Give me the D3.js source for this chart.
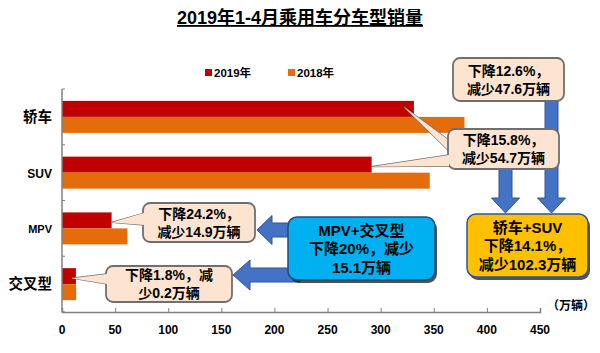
<!DOCTYPE html>
<html>
<head>
<meta charset="utf-8" />
<title>2019年1-4月乘用车分车型销量</title>
<script src="https://cdnjs.cloudflare.com/ajax/libs/d3/7.8.5/d3.min.js"></script>
<style>
  body { margin: 0; background: #fff; }
  svg { font-family: "Liberation Sans", "Noto Sans CJK SC", sans-serif; font-weight: bold; }
</style>
</head>
<body>
<svg id="chart" width="600" height="353"></svg>
<script>
// data
const categories = ['轿车', 'SUV', 'MPV', '交叉型']
const seriesNames = ['2019年', '2018年']
const sales2019 = [331.3, 291.5, 46.7, 13.1]
const sales2018 = [378.9, 346.2, 61.6, 13.3]
const xTicks = [0, 50, 100, 150, 200, 250, 300, 350, 400, 450]
const calloutLines = [
  ['下降12.6%，', '减少47.6万辆'],
  ['下降15.8%，', '减少54.7万辆'],
  ['下降24.2%，', '减少14.9万辆'],
  ['下降1.8%，减', '少0.2万辆']
]
const groupNote = ['MPV+交叉型', '下降20%，减少', '15.1万辆']
const mainNote = ['轿车+SUV', '下降14.1%，', '减少102.3万辆']

const colors = { '2019年': '#C00000', '2018年': '#E46C0A' }
const arrowBlue = '#4472C4'

const svg = d3.select('#chart')

let x = d3.scaleLinear().domain([0, 450]).range([62, 540])
let y = d3.scaleBand().domain(categories).range([89, 312])
let yInner = d3.scaleBand().domain(seriesNames).range([11.9, 43.9])

// title
svg.append('text')
  .attr('x', 300).attr('y', 24)
  .attr('text-anchor', 'middle')
  .style('font-size', '18px')
  .style('text-decoration', 'underline')
  .text('2019年1-4月乘用车分车型销量')

// legend
const legend = svg.append('g')
seriesNames.forEach(function(s, i) {
  let lx = 205 + i * 83
  legend.append('rect').attr('x', lx).attr('y', 69).attr('width', 7).attr('height', 7).style('fill', colors[s])
  legend.append('text').attr('x', lx + 9).attr('y', 77).style('font-size', '11.5px').text(s)
})

// bars
const rows = categories.map(function(c, i) { return { cat: c, '2019年': sales2019[i], '2018年': sales2018[i] } })
const groups = svg.selectAll('g.cat')
  .data(rows)
  .enter()
  .append('g')
  .attr('class', 'cat')
  .attr('transform', function(d) { return 'translate(0,' + y(d.cat) + ')' })

groups.selectAll('rect')
  .data(function(d) { return seriesNames.map(function(s) { return { s: s, v: d[s] } }) })
  .enter()
  .append('rect')
  .attr('x', x(0))
  .attr('y', function(d) { return yInner(d.s) })
  .attr('width', function(d) { return x(d.v) - x(0) })
  .attr('height', yInner.bandwidth())
  .style('fill', function(d) { return colors[d.s] })

// axes
let xAxis = d3.axisTop(x).tickValues(xTicks).tickSize(4).tickFormat('')
const gx = svg.append('g').attr('transform', 'translate(0,312)').call(xAxis)
gx.select('.domain').style('stroke', '#808080').style('stroke-width', 1.5)
gx.selectAll('.tick line').style('stroke', '#808080')
svg.append('g').selectAll('text')
  .data(xTicks)
  .enter()
  .append('text')
  .attr('x', function(d) { return x(d) })
  .attr('y', 334)
  .attr('text-anchor', 'middle')
  .style('font-size', '12px')
  .text(function(d) { return d })

svg.append('line').attr('x1', x(0)).attr('x2', x(0)).attr('y1', 89).attr('y2', 312)
  .style('stroke', '#808080').style('stroke-width', 1.5)
svg.append('g').selectAll('line')
  .data(categories.concat([null]))
  .enter()
  .append('line')
  .attr('x1', x(0)).attr('x2', x(0) + 3)
  .attr('y1', function(d) { return d ? y(d) : 312 })
  .attr('y2', function(d) { return d ? y(d) : 312 })
  .style('stroke', '#808080')

svg.append('g').selectAll('text')
  .data(categories)
  .enter()
  .append('text')
  .attr('x', 52)
  .attr('y', function(d) { return y(d) + y.bandwidth() / 2 + 5 })
  .attr('text-anchor', 'end')
  .style('font-size', function(d) { return d === 'MPV' ? '11px' : (d === 'SUV' ? '12px' : '14.5px') })
  .text(function(d) { return d })

svg.append('text').attr('x', 547).attr('y', 310).style('font-size', '12px').text('（万辆）')

// blue arrows
function arrowRight(x0, x1, yc, shaft, head, headLen) {
  // x1 is tip, arrow pointing left when x1 < x0
  let dir = x1 < x0 ? 1 : -1
  let hb = x1 + dir * headLen
  return 'M' + x0 + ',' + (yc - shaft / 2) + 'L' + hb + ',' + (yc - shaft / 2) + 'L' + hb + ',' + (yc - head / 2) +
    'L' + x1 + ',' + yc + 'L' + hb + ',' + (yc + head / 2) + 'L' + hb + ',' + (yc + shaft / 2) + 'L' + x0 + ',' + (yc + shaft / 2) + 'Z'
}
function arrowDown(xc, y0, y1, shaft, head, headLen) {
  let hb = y1 - headLen
  return 'M' + (xc - shaft / 2) + ',' + y0 + 'L' + (xc - shaft / 2) + ',' + hb + 'L' + (xc - head / 2) + ',' + hb +
    'L' + xc + ',' + y1 + 'L' + (xc + head / 2) + ',' + hb + 'L' + (xc + shaft / 2) + ',' + hb + 'L' + (xc + shaft / 2) + ',' + y0 + 'Z'
}
const arrows = svg.append('g')
arrows.append('path').attr('d', arrowRight(300, 257, 230, 14, 29, 15))
arrows.append('path').attr('d', arrowRight(300, 233, 275, 14, 30, 17))
arrows.append('path').attr('d', arrowDown(505.5, 168, 213, 13, 28, 15))
arrows.append('path').attr('d', arrowDown(551.5, 100, 213, 13, 28, 15))
arrows.selectAll('path').style('fill', arrowBlue).style('stroke', '#2F5597').style('stroke-width', 1)

// callouts
const callBoxes = [
  { x: 453, y: 58, w: 111, h: 43, base: [86, 98] },
  { x: 448, y: 129, w: 111, h: 40, base: [26, 37] },
  { x: 143, y: 203, w: 112, h: 39, base: [10, 22] },
  { x: 106, y: 266, w: 126, h: 36, base: [8, 18] }
]
const callouts = svg.append('g')
callBoxes.forEach(function(b, i) {
  let cat = categories[i]
  let tipX = x(sales2019[i]) - (i === 0 ? 10 : (i === 3 ? 4 : 0))
  let tipY = y(cat) + yInner('2019年') + yInner.bandwidth() / 2 + (i === 0 ? -2 : 2)
  let wedge = 'M' + (b.x + 1) + ',' + (b.y + b.base[0]) + 'L' + tipX + ',' + tipY + 'L' + (b.x + 1) + ',' + (b.y + b.base[1]) + 'Z'
  let g = callouts.append('g')
  g.append('path').attr('d', wedge).style('fill', '#FCE4D0').style('stroke', '#6F6F6F').style('stroke-width', 1.3)
  g.append('rect').attr('x', b.x).attr('y', b.y).attr('width', b.w).attr('height', b.h).attr('rx', 7)
    .style('fill', '#FCE4D0').style('stroke', '#6F6F6F').style('stroke-width', 1.8)
  g.append('path').attr('d', wedge).style('fill', '#FCE4D0')
  let lines = calloutLines[i]
  lines.forEach(function(t, j) {
    g.append('text')
      .attr('x', b.x + b.w / 2)
      .attr('y', b.y + b.h / 2 + (j - 0.5) * 18 + 5)
      .attr('text-anchor', 'middle')
      .style('font-size', '14px')
      .text(t)
  })
})

// summary boxes
function noteBox(bx, by, bw, bh, fill, border, lines) {
  let g = svg.append('g')
  g.append('rect').attr('x', bx + 2).attr('y', by + 3).attr('width', bw).attr('height', bh).attr('rx', 9)
    .style('fill', '#1a1a1a').style('opacity', 0.75)
  g.append('rect').attr('x', bx).attr('y', by).attr('width', bw).attr('height', bh).attr('rx', 9)
    .style('fill', fill).style('stroke', border).style('stroke-width', 1.5)
  lines.forEach(function(t, j) {
    g.append('text')
      .attr('x', bx + bw / 2)
      .attr('y', by + bh / 2 + (j - 1) * 18.5 + 5.5)
      .attr('text-anchor', 'middle')
      .style('font-size', '15px')
      .text(t)
  })
}
noteBox(288, 217, 147, 63, '#00B0F0', '#1F4E79', groupNote)
noteBox(467, 214, 121, 63, '#FFC000', '#2F5597', mainNote)
</script>
</body>
</html>
